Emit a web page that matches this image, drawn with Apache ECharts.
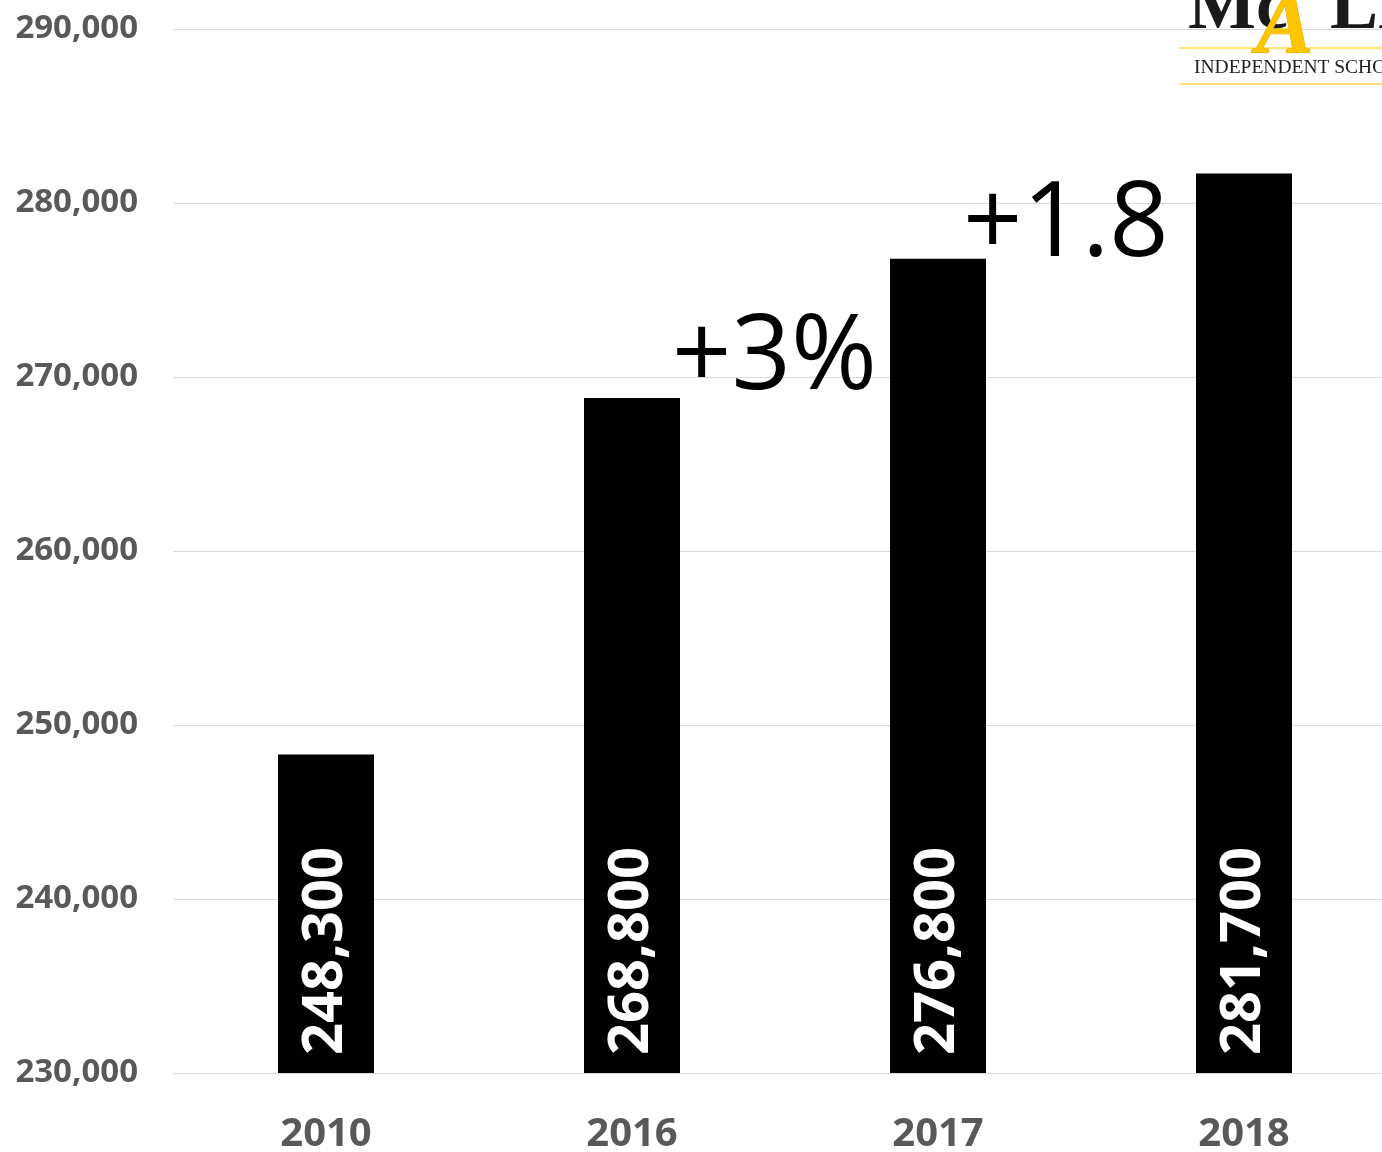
<!DOCTYPE html>
<html>
<head>
<meta charset="utf-8">
<script src="https://cdn.jsdelivr.net/npm/echarts@6/dist/echarts.min.js"></script>
<style>html,body{margin:0;padding:0;background:#fff;}#c{width:1382px;height:1152px;}</style>
</head>
<body>
<div id="c"></div>
<script>
const categories = ['2010', '2016', '2017', '2018'];
const enrollment = [248300, 268800, 276800, 281700];
const yMin = 230000, yMax = 290000, yStep = 10000;
const growthNotes = ['+3%', '+1.8'];

const chart = echarts.init(document.getElementById('c'));
const fmt = v => v.toLocaleString('en-US');
chart.setOption({
  animation: false,
  backgroundColor: '#fff',
  grid: { left: 173, top: 29, width: 1224, height: 1044, containLabel: false, outerBoundsMode: 'none' },
  xAxis: {
    type: 'category',
    data: categories,
    axisLine: { show: true, lineStyle: { color: '#d9d9d9', width: 1 } },
    axisTick: { show: false },
    axisLabel: { color: '#595959', fontFamily: 'Open Sans', fontWeight: 'bold', fontSize: 40, margin: 42 }
  },
  yAxis: {
    type: 'value', min: yMin, max: yMax, interval: yStep,
    axisLine: { show: false }, axisTick: { show: false },
    splitLine: { lineStyle: { color: '#d9d9d9', width: 1 } },
    axisLabel: { color: '#595959', fontFamily: 'Open Sans', fontWeight: 'bold', fontSize: 33, margin: 35, formatter: fmt }
  },
  series: [{
    type: 'bar',
    data: enrollment,
    barWidth: 96,
    itemStyle: { color: '#000' },
    label: {
      show: true, position: 'insideBottom', rotate: 90, align: 'left', verticalAlign: 'middle',
      distance: 18, color: '#fff', fontFamily: 'Open Sans', fontWeight: 'bold', fontSize: 56,
      formatter: p => fmt(p.value)
    }
  }],
  graphic: [
    { type: 'text', left: 672, top: 307, z: 10, style: { text: growthNotes[0], font: '104px "Open Sans"', fill: '#000', shadowColor: 'rgba(0,0,0,0.35)', shadowBlur: 3, shadowOffsetX: 2, shadowOffsetY: 2 } },
    { type: 'text', left: 963, top: 174, z: 10, style: { text: growthNotes[1], font: '104px "Open Sans"', fill: '#000', shadowColor: 'rgba(0,0,0,0.35)', shadowBlur: 3, shadowOffsetX: 2, shadowOffsetY: 2 } },
    { type: 'rect', z: 20, shape: { x: 1179, y: 47, width: 210, height: 2 }, style: { fill: '#ffe27a' } },
    { type: 'rect', z: 20, shape: { x: 1179, y: 83, width: 210, height: 2 }, style: { fill: '#ffe27a' } },
    { type: 'text', z: 21, x: 1188, y: 45, style: { text: 'Mc', font: 'bold 72px "Liberation Serif"', fill: '#1a1a1a', verticalAlign: 'bottom', textVerticalAlign: 'bottom' } },
    { type: 'text', z: 22, x: 1256, y: 73, style: { text: 'A', font: 'italic bold 86px "Liberation Serif"', fill: '#ffc600', stroke: '#e0a800', lineWidth: 1, verticalAlign: 'bottom', textVerticalAlign: 'bottom' } },
    { type: 'text', z: 21, x: 1330, y: 45, style: { text: 'LL', font: 'bold 72px "Liberation Serif"', fill: '#1a1a1a', verticalAlign: 'bottom', textVerticalAlign: 'bottom' } },
    { type: 'text', z: 21, x: 1194, y: 78, style: { text: 'INDEPENDENT SCHOOL', font: '19.5px "Liberation Serif"', fill: '#222', verticalAlign: 'bottom', textVerticalAlign: 'bottom' } }
  ]
});
</script>
</body>
</html>
